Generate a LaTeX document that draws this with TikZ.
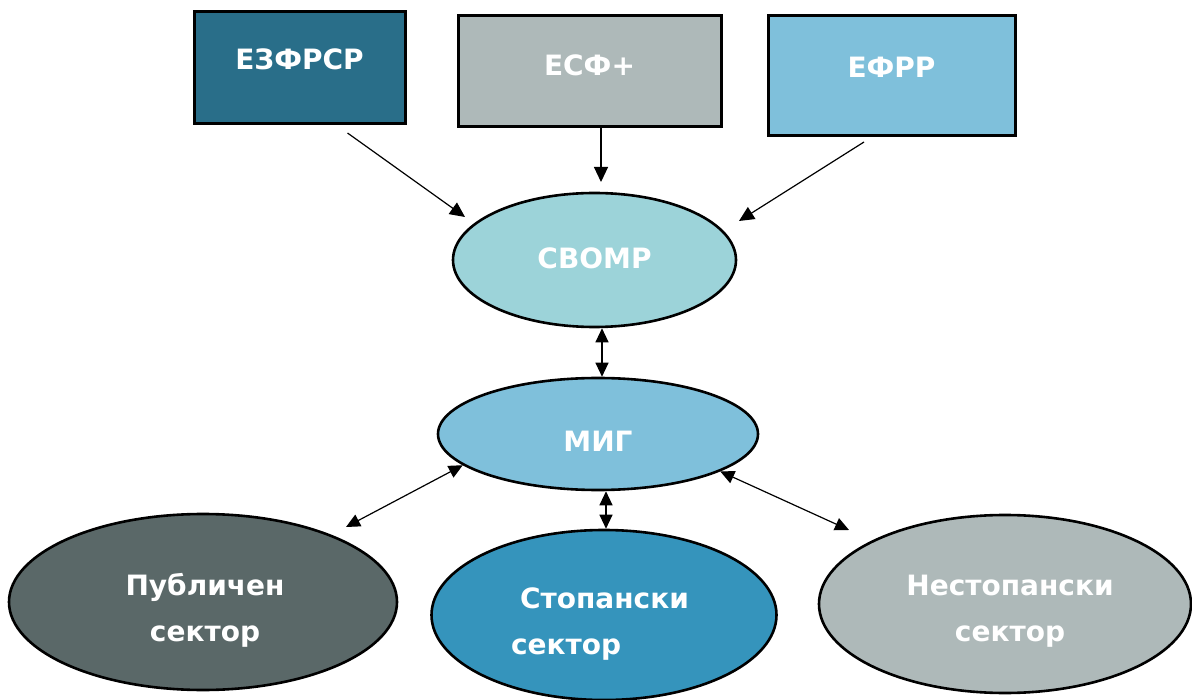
\documentclass[tikz,border=0pt]{standalone}
\usepackage{fontspec}
\setmainfont{DejaVu Sans}
\usetikzlibrary{arrows.meta,shapes.geometric}
\definecolor{cA}{HTML}{296E89}
\definecolor{cB}{HTML}{AEB9B9}
\definecolor{cC}{HTML}{7FC0DB}
\definecolor{cD}{HTML}{9CD3D9}
\definecolor{cE}{HTML}{5A6868}
\definecolor{cF}{HTML}{3594BC}
\begin{document}
\begin{tikzpicture}[x=1pt,y=-1pt,
  box/.style={draw=black,line width=3pt,rectangle,inner sep=0pt},
  ell/.style={draw=black,line width=2.6pt,ellipse,inner sep=0pt},
  lbl/.style={text=white,font=\bfseries\fontsize{28}{46}\selectfont,align=center},
  arr/.style={line width=1.2pt,-{Triangle[length=15pt,width=14pt]}},
  darr/.style={line width=1.2pt,{Triangle[length=14pt,width=13pt]}-{Triangle[length=14pt,width=13pt]}}]
\useasboundingbox (0,0) rectangle (1192,700);
% boxes
\node[box,fill=cA,minimum width=211pt,minimum height=112pt,
  label={[lbl,yshift=9pt]center:ЕЗФРСР}] (ezf) at (299.5,68) {};
\node[box,fill=cB,minimum width=263pt,minimum height=111pt,
  label={[lbl,yshift=6pt]center:ЕСФ+}] (esf) at (589.5,71.5) {};
\node[box,fill=cC,minimum width=247pt,minimum height=120pt,
  label={[lbl,yshift=9pt]center:ЕФРР}] (efrr) at (891.5,76) {};
% ellipses
\node[ell,fill=cD,minimum width=283pt,minimum height=134pt,
  label={[lbl,yshift=2pt]center:СВОМР}] (sv) at (594.5,260) {};
\node[ell,fill=cC,minimum width=320pt,minimum height=112pt,
  label={[lbl,yshift=-7pt]center:МИГ}] (mig) at (598,434) {};
\node[ell,fill=cE,minimum width=388pt,minimum height=176pt,
  label={[lbl,yshift=-8pt,xshift=2pt]center:Публичен\\сектор}] (pub) at (203,602) {};
\node[ell,fill=cF,minimum width=345pt,minimum height=170pt,
  label={[lbl,align=left,yshift=-9pt,xshift=-4pt]center:\hspace{9pt}Стопански\\сектор}] (stop) at (604,615) {};
\node[ell,fill=cB,minimum width=372pt,minimum height=178pt,
  label={[lbl,yshift=-7pt,xshift=5pt]center:Нестопански\\сектор}] (nest) at (1005,604) {};
% connector ends
\coordinate (a1s) at (347.5,133);
\coordinate (a1e) at (465,217);
\coordinate (a2e) at (601,182);
\coordinate (a3s) at (864,142);
\coordinate (a3e) at (739,221);
\coordinate (x2) at (602,0);
\coordinate (pubend) at (346,527);
\coordinate (x5) at (606,0);
\coordinate (nestend) at (849,530);
% connectors
\draw[arr] (a1s) -- (a1e);
\draw[arr] (a2e |- esf.south) -- (a2e);
\draw[arr] (a3s) -- (a3e);
\draw[darr] (sv.south -| x2) -- (mig.north -| x2);
\draw[darr] (mig.193) -- (pubend);
\draw[darr] (mig.south -| x5) -- (stop.north -| x5);
\draw[darr] (mig.343) -- (nestend);
\end{tikzpicture}
\end{document}
